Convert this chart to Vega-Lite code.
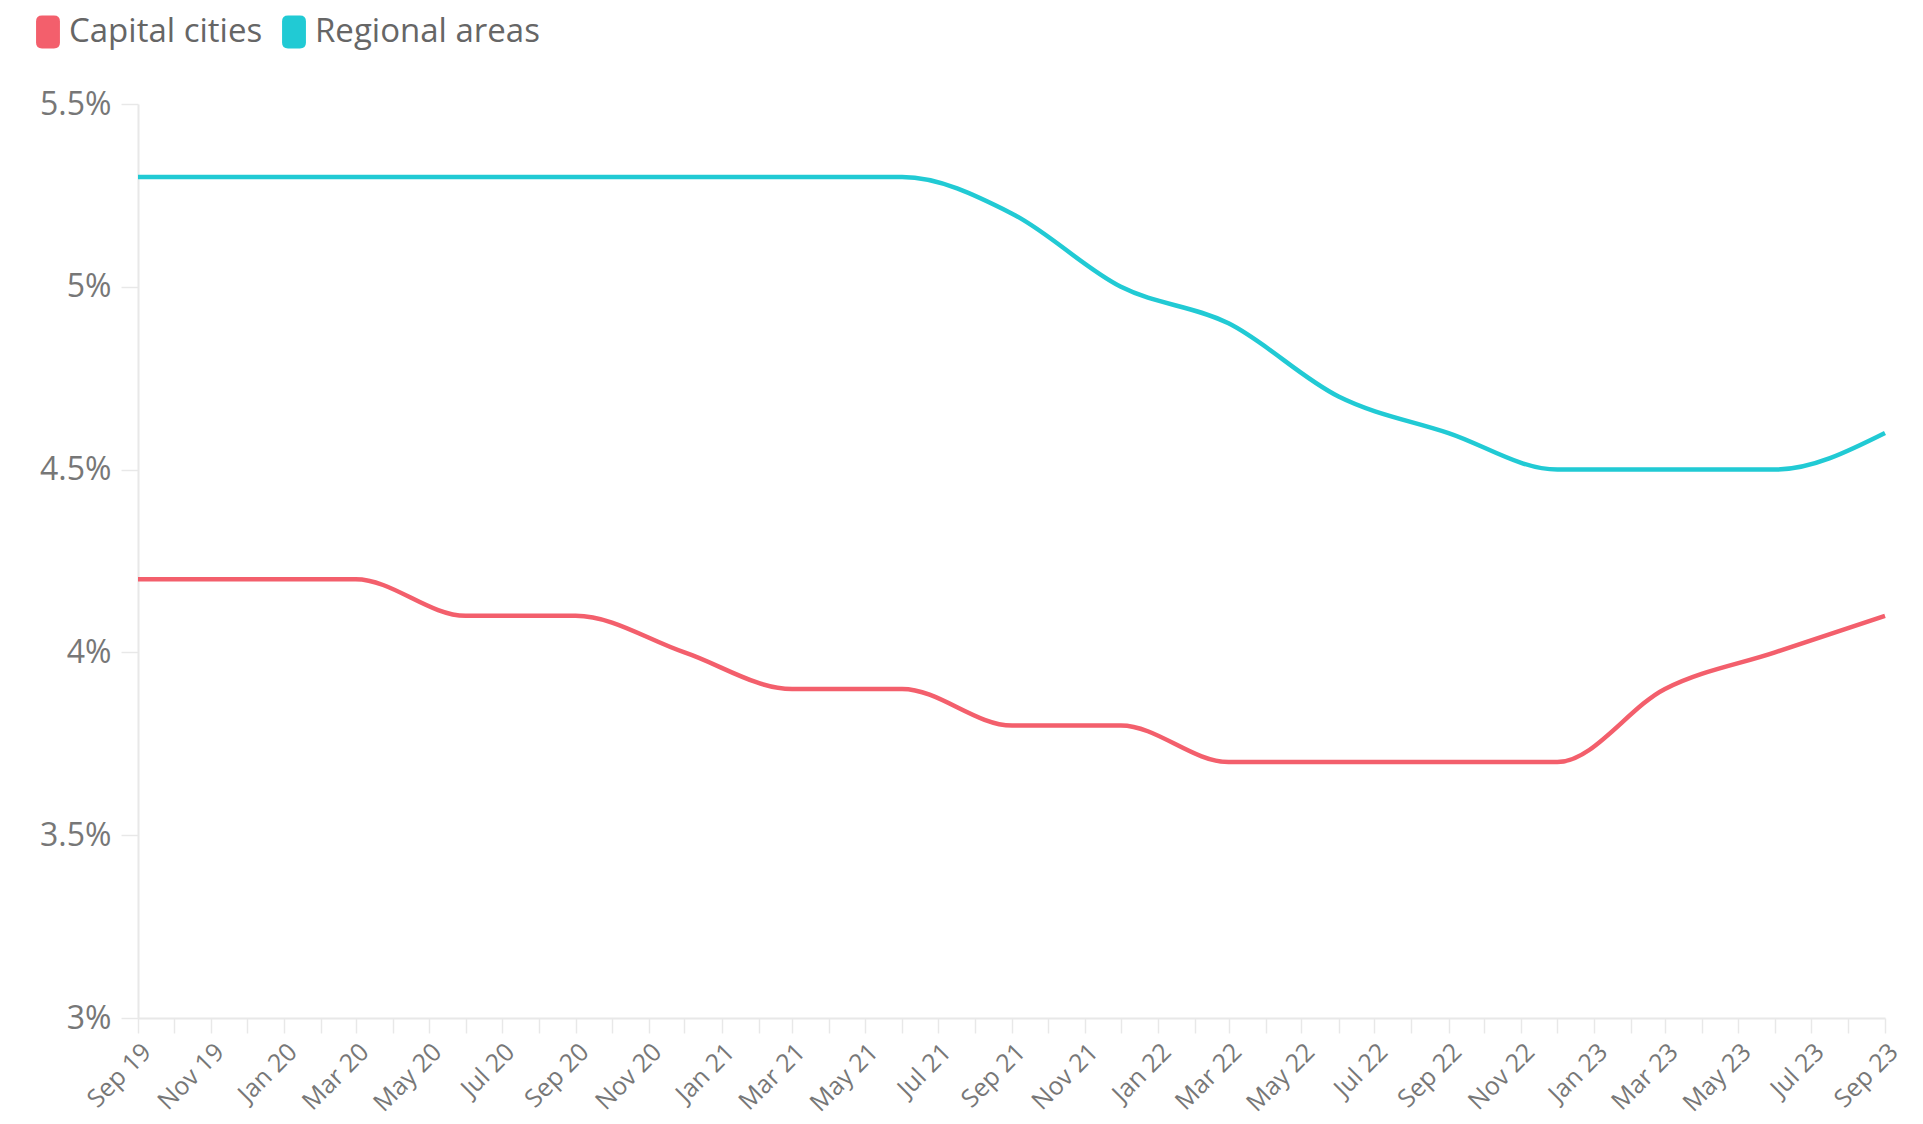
{
  "$schema": "https://vega.github.io/schema/vega-lite/v6.json",
  "width": 1747,
  "height": 914,
  "autosize": {"type": "none"},
  "padding": {"left": 138, "top": 104, "right": 38, "bottom": 106},
  "background": "white",
  "config": {
    "view": {"stroke": null},
    "font": "Open Sans"
  },
  "data": {
    "values": [
      {"date": "2019-09-01", "series": "Capital cities", "rate": 4.2},
      {"date": "2019-12-01", "series": "Capital cities", "rate": 4.2},
      {"date": "2020-03-01", "series": "Capital cities", "rate": 4.2},
      {"date": "2020-06-01", "series": "Capital cities", "rate": 4.1},
      {"date": "2020-09-01", "series": "Capital cities", "rate": 4.1},
      {"date": "2020-12-01", "series": "Capital cities", "rate": 4.0},
      {"date": "2021-03-01", "series": "Capital cities", "rate": 3.9},
      {"date": "2021-06-01", "series": "Capital cities", "rate": 3.9},
      {"date": "2021-09-01", "series": "Capital cities", "rate": 3.8},
      {"date": "2021-12-01", "series": "Capital cities", "rate": 3.8},
      {"date": "2022-03-01", "series": "Capital cities", "rate": 3.7},
      {"date": "2022-06-01", "series": "Capital cities", "rate": 3.7},
      {"date": "2022-09-01", "series": "Capital cities", "rate": 3.7},
      {"date": "2022-12-01", "series": "Capital cities", "rate": 3.7},
      {"date": "2023-03-01", "series": "Capital cities", "rate": 3.9},
      {"date": "2023-06-01", "series": "Capital cities", "rate": 4.0},
      {"date": "2023-09-01", "series": "Capital cities", "rate": 4.1},
      {"date": "2019-09-01", "series": "Regional areas", "rate": 5.3},
      {"date": "2019-12-01", "series": "Regional areas", "rate": 5.3},
      {"date": "2020-03-01", "series": "Regional areas", "rate": 5.3},
      {"date": "2020-06-01", "series": "Regional areas", "rate": 5.3},
      {"date": "2020-09-01", "series": "Regional areas", "rate": 5.3},
      {"date": "2020-12-01", "series": "Regional areas", "rate": 5.3},
      {"date": "2021-03-01", "series": "Regional areas", "rate": 5.3},
      {"date": "2021-06-01", "series": "Regional areas", "rate": 5.3},
      {"date": "2021-09-01", "series": "Regional areas", "rate": 5.2},
      {"date": "2021-12-01", "series": "Regional areas", "rate": 5.0},
      {"date": "2022-03-01", "series": "Regional areas", "rate": 4.9},
      {"date": "2022-06-01", "series": "Regional areas", "rate": 4.7},
      {"date": "2022-09-01", "series": "Regional areas", "rate": 4.6},
      {"date": "2022-12-01", "series": "Regional areas", "rate": 4.5},
      {"date": "2023-03-01", "series": "Regional areas", "rate": 4.5},
      {"date": "2023-06-01", "series": "Regional areas", "rate": 4.5},
      {"date": "2023-09-01", "series": "Regional areas", "rate": 4.6}
    ]
  },
  "mark": {"type": "line", "interpolate": "monotone", "strokeWidth": 4.5},
  "encoding": {
    "x": {
      "field": "date",
      "type": "temporal",
      "scale": {"type": "utc", "nice": false},
      "axis": {
        "title": null,
        "grid": false,
        "tickCount": {"interval": "month", "step": 1},
        "labelExpr": "utcmonth(datum.value) % 2 == 0 ? utcFormat(datum.value, '%b %y') : ''",
        "labelAngle": -45,
        "labelAlign": "right",
        "labelBaseline": "top",
        "labelFontSize": 25,
        "labelColor": "#777777",
        "labelPadding": 6,
        "labelOverlap": false,
        "labelFlush": false,
        "domainColor": "#e8e8e8",
        "domainWidth": 2,
        "tickColor": "#e8e8e8",
        "tickWidth": 1.5,
        "tickSize": 15
      }
    },
    "y": {
      "field": "rate",
      "type": "quantitative",
      "scale": {"domain": [3, 5.5], "nice": false, "zero": false},
      "axis": {
        "title": null,
        "grid": false,
        "values": [3, 3.5, 4, 4.5, 5, 5.5],
        "labelExpr": "datum.value + '%'",
        "labelFontSize": 32,
        "labelColor": "#777777",
        "labelPadding": 10,
        "domainColor": "#e8e8e8",
        "domainWidth": 2,
        "tickColor": "#e8e8e8",
        "tickWidth": 1.5,
        "tickSize": 17
      }
    },
    "color": {
      "field": "series",
      "type": "nominal",
      "scale": {"domain": ["Capital cities", "Regional areas"], "range": ["#F35F6C", "#21CAD4"]},
      "legend": {
        "title": null,
        "orient": "none",
        "direction": "horizontal",
        "legendX": -107,
        "legendY": -89,
        "symbolType": "M-0.36,-1H0.36Q0.72,-1 0.72,-0.64V0.64Q0.72,1 0.36,1H-0.36Q-0.72,1 -0.72,0.64V-0.64Q-0.72,-1 -0.36,-1Z",
        "symbolSize": 1100,
        "symbolStrokeWidth": 0,
        "symbolOpacity": 1,
        "labelFontSize": 33,
        "labelLimit": 500,
        "labelColor": "#666666",
        "labelOffset": 4,
        "columnPadding": 14,
        "encode": {
          "symbols": {
            "update": {
              "fill": {"scale": "color", "field": "value"},
              "fillOpacity": {"value": 1},
              "strokeWidth": {"value": 0}
            }
          }
        }
      }
    }
  }
}
